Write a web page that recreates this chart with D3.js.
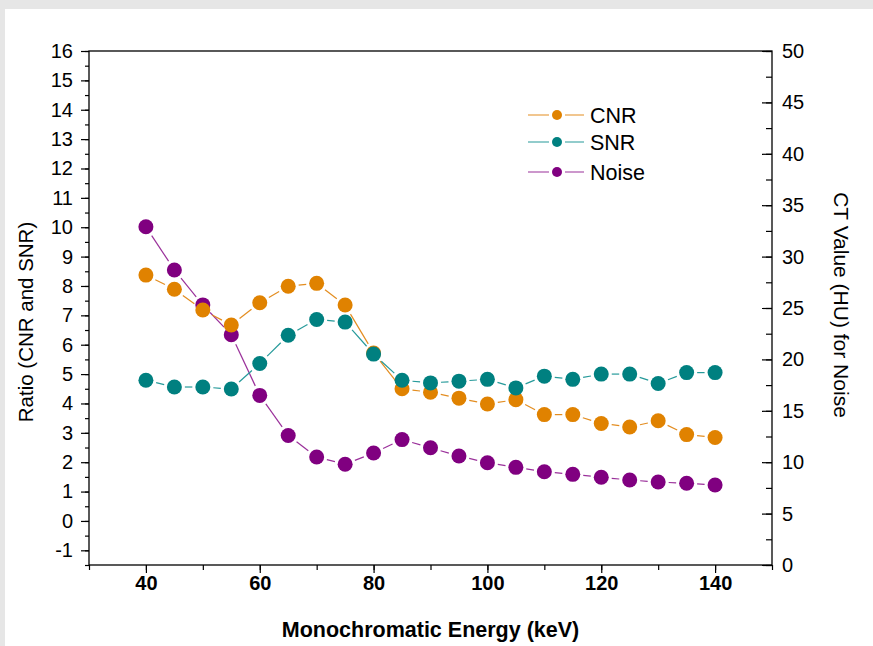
<!DOCTYPE html>
<html>
<head>
<meta charset="utf-8">
<script src="https://cdn.jsdelivr.net/npm/d3@7"></script>
<style>
  body { margin: 0; background: #e6e6e6; }
  svg { display: block; }
  text { font-family: "Liberation Sans", Arial, sans-serif; fill: #000; }
</style>
</head>
<body>
<div id="chart"></div>
<script>
// ------------------------------------------------------------------------ //
// DATA
// ------------------------------------------------------------------------ //

var energy = [40, 45, 50, 55, 60, 65, 70, 75, 80, 85, 90, 95, 100, 105, 110, 115, 120, 125, 130, 135, 140]

// left axis: ratios
var cnr = [8.37, 7.89, 7.18, 6.67, 7.43, 7.99, 8.09, 7.35, 5.72, 4.50, 4.38, 4.18, 3.98, 4.13, 3.62, 3.62, 3.32, 3.20, 3.41, 2.94, 2.84]
var snr = [4.79, 4.56, 4.56, 4.49, 5.36, 6.32, 6.86, 6.77, 5.68, 4.79, 4.70, 4.76, 4.82, 4.53, 4.93, 4.82, 5.00, 5.00, 4.68, 5.05, 5.05]

// right axis: CT value (HU) for noise
var noise = [32.9, 28.7, 25.3, 22.4, 16.5, 12.6, 10.5, 9.8, 10.9, 12.2, 11.4, 10.6, 9.95, 9.5, 9.07, 8.82, 8.53, 8.27, 8.07, 7.95, 7.78]

var xTicks = [40, 60, 80, 100, 120, 140]
var leftTicks = [-1, 0, 1, 2, 3, 4, 5, 6, 7, 8, 9, 10, 11, 12, 13, 14, 15, 16]
var rightTicks = [0, 5, 10, 15, 20, 25, 30, 35, 40, 45, 50]

var seriesNames = ["CNR", "SNR", "Noise"]

// ------------------------------------------------------------------------ //
// SVG AREA
// ------------------------------------------------------------------------ //

var W = 873, H = 646
var margin = {top: 51, right: 101, bottom: 81, left: 89},
  width = W - margin.left - margin.right,
  height = H - margin.top - margin.bottom

var root = d3.select("#chart")
  .append("svg")
    .attr("width", W)
    .attr("height", H)

// white panel over the grey page
root.append("rect")
  .attr("x", 5).attr("y", 9)
  .attr("width", W - 5).attr("height", H - 9)
  .style("fill", "#fff")

var svg = root.append("g")
  .attr("transform", "translate(" + margin.left + "," + margin.top + ")")

// ------------------------------------------------------------------------ //
// SCALES
// ------------------------------------------------------------------------ //

var x = d3.scaleLinear().domain([30, 150]).range([0, width])
var yL = d3.scaleLinear().domain([-1.5, 16]).range([height, 0])
var yR = d3.scaleLinear().domain([0, 50]).range([height, 0])

var colors = {CNR: "#e08200", SNR: "#008080", Noise: "#800080"}
var lineColors = {CNR: "#e38d20", SNR: "#269a9a", Noise: "#9a309a"}

// plain hyphen for negatives, like the original
var plain = function(d){ return String(d) }

// ------------------------------------------------------------------------ //
// AXES
// ------------------------------------------------------------------------ //

// frame
svg.append("rect")
  .attr("width", width).attr("height", height)
  .style("fill", "none").style("stroke", "#000").style("stroke-width", 1.3)

// bottom axis: minor + major
svg.append("g")
  .attr("transform", "translate(0," + height + ")")
  .call(d3.axisBottom(x).tickValues(d3.range(30, 151, 10)).tickSize(5).tickFormat(""))
  .call(function(g){ g.select(".domain").remove() })
svg.append("g")
  .attr("class", "xaxis")
  .attr("transform", "translate(0," + height + ")")
  .call(d3.axisBottom(x).tickValues(xTicks).tickSize(8).tickPadding(3).tickFormat(plain))
  .call(function(g){ g.select(".domain").remove() })
svg.selectAll(".xaxis text")
  .style("font-size", "20px")
  .style("font-weight", "bold")

// left axis
svg.append("g")
  .call(d3.axisLeft(yL).tickValues(d3.range(-1.5, 16.01, 0.5)).tickSize(4).tickFormat(""))
  .call(function(g){ g.select(".domain").remove() })
svg.append("g")
  .attr("class", "yaxisL")
  .call(d3.axisLeft(yL).tickValues(leftTicks).tickSize(8).tickPadding(8).tickFormat(plain))
  .call(function(g){ g.select(".domain").remove() })

// right axis (ticks point inward)
svg.append("g")
  .attr("transform", "translate(" + width + ",0)")
  .call(d3.axisLeft(yR).tickValues(d3.range(0, 50.1, 2.5)).tickSize(6).tickFormat(""))
  .call(function(g){ g.select(".domain").remove() })
svg.append("g")
  .attr("class", "yaxisR")
  .attr("transform", "translate(" + width + ",0)")
  .call(d3.axisRight(yR).tickValues(rightTicks).tickSize(0).tickPadding(10).tickFormat(plain))
  .call(function(g){ g.select(".domain").remove() })
svg.append("g")
  .attr("transform", "translate(" + width + ",0)")
  .call(d3.axisLeft(yR).tickValues(rightTicks).tickSize(10).tickFormat(""))
  .call(function(g){ g.select(".domain").remove() })

svg.selectAll(".yaxisL text, .yaxisR text").style("font-size", "20px")
svg.selectAll(".tick line").style("stroke", "#000").style("stroke-width", 1.2)

// axis titles
svg.append("text")
  .attr("x", width / 2)
  .attr("y", height + 72)
  .style("text-anchor", "middle")
  .style("font-size", "21.5px")
  .style("font-weight", "bold")
  .text("Monochromatic Energy (keV)")

svg.append("text")
  .attr("transform", "translate(-56," + (height / 2 + 14) + ") rotate(-90)")
  .style("text-anchor", "middle")
  .style("font-size", "20.5px")
  .text("Ratio (CNR and SNR)")

svg.append("text")
  .attr("transform", "translate(" + (width + 62) + "," + (height / 2 - 3) + ") rotate(90)")
  .style("text-anchor", "middle")
  .style("font-size", "21px")
  .text("CT Value (HU) for Noise")

// ------------------------------------------------------------------------ //
// SHAPES
// ------------------------------------------------------------------------ //

var R = 7.5, GAP = 3

function toPoints(vals, yScale){
  return vals.map(function(v, i){ return {x: x(energy[i]), y: yScale(v)} })
}

var series = [
  {name: "Noise", pts: toPoints(noise, yR)},
  {name: "CNR", pts: toPoints(cnr, yL)},
  {name: "SNR", pts: toPoints(snr, yL)}
]

// line segments with a gap around every symbol
function segments(pts){
  var segs = []
  for (var i = 0; i < pts.length - 1; i++) {
    var a = pts[i], b = pts[i + 1]
    var dx = b.x - a.x, dy = b.y - a.y, len = Math.sqrt(dx * dx + dy * dy)
    var cut = R + GAP
    if (len <= 2 * cut) continue
    segs.push({
      x1: a.x + dx * cut / len, y1: a.y + dy * cut / len,
      x2: b.x - dx * cut / len, y2: b.y - dy * cut / len
    })
  }
  return segs
}

series.forEach(function(s){
  var g = svg.append("g")
  g.selectAll("line")
    .data(segments(s.pts))
    .enter()
    .append("line")
      .attr("x1", function(d){ return d.x1 })
      .attr("y1", function(d){ return d.y1 })
      .attr("x2", function(d){ return d.x2 })
      .attr("y2", function(d){ return d.y2 })
      .style("stroke", lineColors[s.name])
      .style("stroke-width", 1.2)
  g.selectAll("circle")
    .data(s.pts)
    .enter()
    .append("circle")
      .attr("cx", function(d){ return d.x })
      .attr("cy", function(d){ return d.y })
      .attr("r", R)
      .style("fill", colors[s.name])
})

// ------------------------------------------------------------------------ //
// LEGEND
// ------------------------------------------------------------------------ //

var legend = svg.append("g")
  .attr("transform", "translate(" + (528 - margin.left) + "," + (115 - margin.top) + ")")

var leg = legend.selectAll("g")
  .data(seriesNames)
  .enter()
  .append("g")
    .attr("transform", function(d, i){ return "translate(0," + [0, 27, 57][i] + ")" })

leg.append("line")
  .attr("x1", 0).attr("x2", 56)
  .style("stroke", function(d){ return lineColors[d] })
  .style("stroke-width", 1.2)
leg.append("rect")
  .attr("x", 21).attr("y", -4).attr("width", 16).attr("height", 8)
  .style("fill", "#fff")
leg.append("circle")
  .attr("cx", 29).attr("r", 5)
  .style("fill", function(d){ return colors[d] })
leg.append("text")
  .attr("x", 62).attr("dy", "0.35em")
  .style("font-size", "21.5px")
  .text(function(d){ return d })
</script>
</body>
</html>
